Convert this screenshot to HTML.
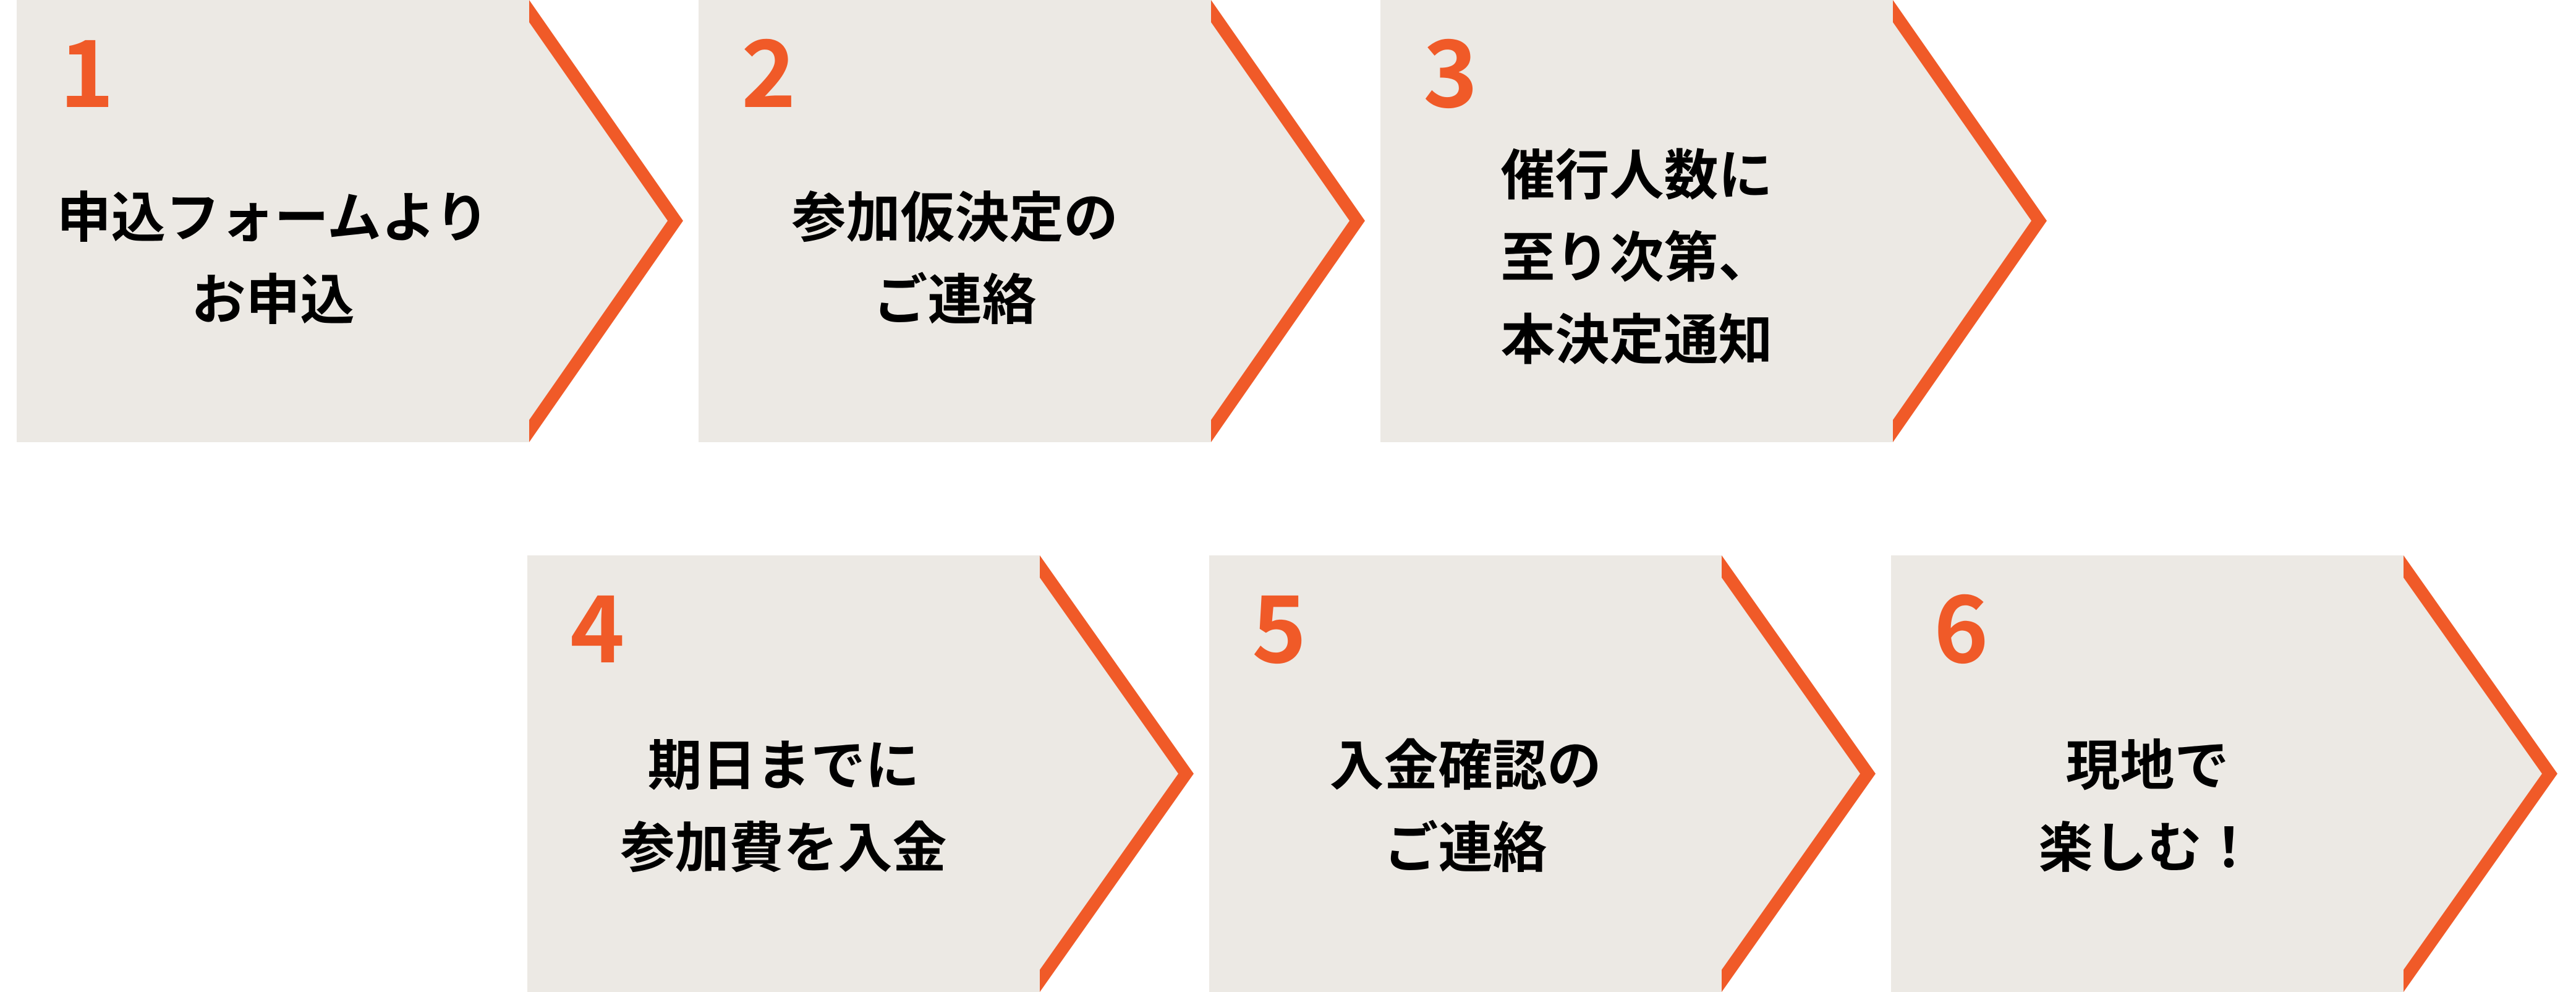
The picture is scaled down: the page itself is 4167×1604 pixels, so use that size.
<!DOCTYPE html>
<html><head><meta charset="utf-8"><style>
html,body{margin:0;padding:0;background:#fff;}
body{width:4167px;height:1604px;position:relative;overflow:hidden;font-family:"Liberation Sans","Noto Sans CJK JP",sans-serif;}
svg{position:absolute;left:0;top:0;}
.num{position:absolute;color:#F05A28;font-family:"Noto Sans CJK JP","Liberation Sans",sans-serif;font-size:150px;line-height:1;font-weight:bold;}
.txt{position:absolute;width:829px;text-align:center;font-family:"Noto Sans CJK JP",sans-serif;font-weight:bold;font-size:88px;line-height:133px;color:#000;transform:translateY(-50%);}
</style></head><body>
<svg width="4167" height="1604" viewBox="0 0 4167 1604">
<g fill="#ECE9E4">
<polygon points="27,0 856,0 1105,357 856,715 27,715"/>
<polygon points="1130,0 1959,0 2208,357 1959,715 1130,715"/>
<polygon points="2233,0 3062,0 3311,357 3062,715 2233,715"/>
<polygon points="853,898 1682,898 1931,1251 1682,1604 853,1604"/>
<polygon points="1956,898 2785,898 3034,1251 2785,1604 1956,1604"/>
<polygon points="3059,898 3888,898 4137,1251 3888,1604 3059,1604"/>
</g>
<g fill="#F05A28">
<polygon points="856,0 1105,357 856,715 856,679 1080,357 856,36"/>
<polygon points="1959,0 2208,357 1959,715 1959,679 2183,357 1959,36"/>
<polygon points="3062,0 3311,357 3062,715 3062,679 3286,357 3062,36"/>
<polygon points="1682,898 1931,1251 1682,1604 1682,1568 1906,1251 1682,934"/>
<polygon points="2785,898 3034,1251 2785,1604 2785,1568 3009,1251 2785,934"/>
<polygon points="3888,898 4137,1251 3888,1604 3888,1568 4112,1251 3888,934"/>
</g>
</svg>
<div class="num" style="left:96px;top:34px">1</div>
<div class="num" style="left:1199px;top:34px">2</div>
<div class="num" style="left:2302px;top:34px">3</div>
<div class="num" style="left:922px;top:932px">4</div>
<div class="num" style="left:2025px;top:932px">5</div>
<div class="num" style="left:3128px;top:932px">6</div>
<div class="txt" style="left:27px;top:412px">申込フォームより<br>お申込</div>
<div class="txt" style="left:1130px;top:412px">参加仮決定の<br>ご連絡</div>
<div class="txt" style="left:2233px;top:410px">催行人数に<br>至り次第、<br>本決定通知</div>
<div class="txt" style="left:853px;top:1298px">期日までに<br>参加費を入金</div>
<div class="txt" style="left:1956px;top:1298px">入金確認の<br>ご連絡</div>
<div class="txt" style="left:3059px;top:1298px">現地で<br>楽しむ！</div>
</body></html>
